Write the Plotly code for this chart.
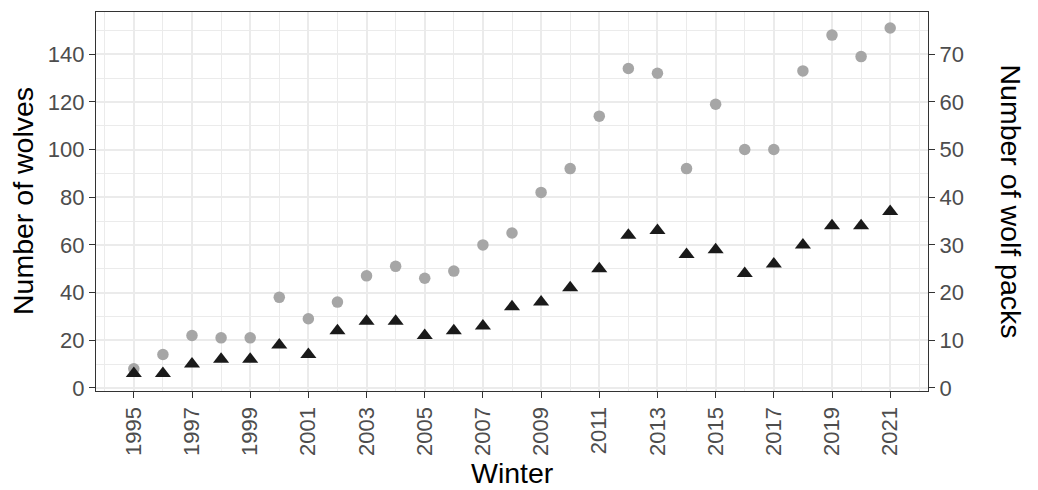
import plotly.graph_objects as go

winters = list(range(1995, 2022))
wolves = [8, 14, 22, 21, 21, 38, 29, 36, 47, 51, 46, 49, 60, 65, 82, 92, 114, 134, 132, 92, 119, 100, 100, 133, 148, 139, 151]
packs = [3, 3, 5, 6, 6, 9, 7, 12, 14, 14, 11, 12, 13, 17, 18, 21, 25, 32, 33, 28, 29, 24, 26, 30, 34, 34, 37]

FONT = "Liberation Sans, Arial, sans-serif"
AX = "#333333"
TICKC = "#4D4D4D"
GRID = "#EBEBEB"
TF = 22
TT = 28.5

fig = go.Figure()
fig.add_trace(go.Scatter(x=winters, y=wolves, mode="markers", name="Wolves",
                         marker=dict(symbol="circle", size=11.5, color="#A6A6A6"), yaxis="y"))
fig.add_trace(go.Scatter(x=winters, y=packs, mode="markers", name="Packs",
                         marker=dict(symbol="triangle-up", size=14, color="#1A1A1A"), yaxis="y2"))

ymin, ymax = -1.3, 157.7
fig.update_layout(
    width=1038, height=490,
    margin=dict(l=96, r=110, t=12, b=99, autoexpand=False),
    paper_bgcolor="white", plot_bgcolor="white",
    showlegend=False,
    font=dict(family=FONT, size=TF, color=TICKC),
    xaxis=dict(range=[1993.7, 2022.3], tick0=1995, dtick=2, tickangle=-90, automargin=False,
               showgrid=True, gridcolor=GRID, gridwidth=1.6,
               minor=dict(dtick=1, tick0=1995, showgrid=True, gridcolor=GRID, gridwidth=0.8),
               showline=True, linecolor=AX, linewidth=1.3, mirror=True,
               ticks="outside", ticklen=6, tickwidth=1.3, tickcolor=AX,
               tickfont=dict(size=TF, color=TICKC), zeroline=False),
    yaxis=dict(range=[ymin, ymax], tick0=0, dtick=20, automargin=False,
               showgrid=True, gridcolor=GRID, gridwidth=1.6,
               minor=dict(dtick=10, tick0=0, showgrid=True, gridcolor=GRID, gridwidth=0.8),
               showline=True, linecolor=AX, linewidth=1.3, mirror=True,
               ticks="outside", ticklen=6, tickwidth=1.3, tickcolor=AX,
               tickfont=dict(size=TF, color=TICKC), zeroline=False),
    yaxis2=dict(range=[ymin / 2, ymax / 2], tick0=0, dtick=10, overlaying="y", side="right",
                automargin=False,
                showgrid=False, showline=True, linecolor=AX, linewidth=1.3,
                ticks="outside", ticklen=6, tickwidth=1.3, tickcolor=AX,
                tickfont=dict(size=TF, color=TICKC), zeroline=False),
)

fig.add_annotation(text="Winter", xref="paper", yref="paper", x=0.5, y=-0.217,
                   xanchor="center", yanchor="middle", showarrow=False,
                   font=dict(family=FONT, size=TT, color="black"))
fig.add_annotation(text="Number of wolves", xref="paper", yref="paper", x=(22.5 - 96) / 832, y=0.5,
                   xanchor="center", yanchor="middle", textangle=-90, showarrow=False,
                   font=dict(family=FONT, size=TT, color="black"))
fig.add_annotation(text="Number of wolf packs", xref="paper", yref="paper", x=(1011 - 96) / 832, y=0.5,
                   xanchor="center", yanchor="middle", textangle=90, showarrow=False,
                   font=dict(family=FONT, size=TT, color="black"))

fig.write_html("out.html", config={"displayModeBar": False},
               post_script="document.body.style.margin='0';document.body.style.padding='0';")
